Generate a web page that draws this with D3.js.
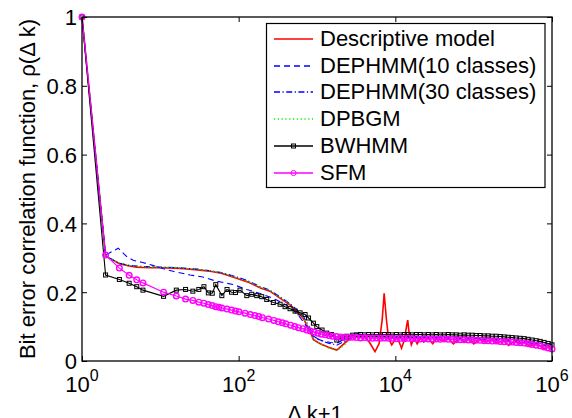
<!DOCTYPE html>
<html><head><meta charset="utf-8">
<script src="https://cdn.jsdelivr.net/npm/d3@7"></script>
<style>body{margin:0;background:#fff}svg{display:block}text{font-family:"Liberation Sans",Arial,Helvetica,sans-serif;fill:#000}</style>
</head><body><svg id="c" width="572" height="418"></svg>
<script>
// ---- data ----
const legendLabels = ["Descriptive model","DEPHMM(10 classes)","DEPHMM(30 classes)","DPBGM","BWHMM","SFM"];
const xTickVals = [1, 100, 10000, 1000000];
const xTickExps = ["0","2","4","6"];
const yTickVals = [0, 0.2, 0.4, 0.6, 0.8, 1];
const yTickLabels = ["0","0.2","0.4","0.6","0.8","1"];

const lagDesc = [1,2,3,4,5,6,8,10,15,20,30,45,60,90,130,190,250,330,450,550,670,820,900,1100,1400,1790,2200,2650,3300,4200,4800,5500,6200,6800,7200,7700,8200,9000,9800,10500,11200,12000,13000,14000,14400,15000,16000,17500,19000,21000,23000,26000,30000,34000,40000,47000,55000,65000,75000,90000,100000,120000,140000,170000,200000,240000,280000,330000,380000,450000,520000,600000,700000,800000,900000,1000000];
const rhoDesc = [1.0,0.305,0.283,0.276,0.273,0.272,0.271,0.271,0.270,0.268,0.265,0.260,0.255,0.242,0.230,0.212,0.203,0.184,0.163,0.145,0.124,0.085,0.062,0.050,0.040,0.032,0.050,0.066,0.070,0.068,0.050,0.027,0.050,0.120,0.197,0.120,0.065,0.047,0.060,0.068,0.055,0.037,0.060,0.105,0.119,0.080,0.047,0.068,0.050,0.066,0.055,0.067,0.050,0.066,0.058,0.066,0.050,0.065,0.057,0.064,0.050,0.063,0.055,0.062,0.052,0.060,0.045,0.058,0.050,0.055,0.042,0.050,0.045,0.035,0.042,0.033];

const lagDep10 = [1,2,2.5,2.9,3.4,3.8,4.5,5.8,8,11,15,24,35,50,86,127,188,250,306,411,500,600,700,820,950,1200,1500,1790,2200,2800,3500,4200,6000,10000,20000,50000,100000,200000,500000,1000000];
const rhoDep10 = [1.0,0.308,0.32,0.328,0.312,0.302,0.293,0.287,0.278,0.268,0.26,0.25,0.244,0.233,0.222,0.208,0.196,0.186,0.177,0.162,0.147,0.128,0.108,0.084,0.066,0.058,0.054,0.052,0.062,0.075,0.082,0.078,0.072,0.070,0.069,0.067,0.066,0.063,0.055,0.045];

const lagSmooth = [1,2,3,4,5,6,8,10,15,20,30,45,60,90,130,190,250,330,450,550,670,820,900,1100,1400,1790,2200,2650,3300,4200,6000,10000,20000,50000,100000,200000,500000,1000000];
const rhoDep30 = [1.0,0.305,0.284,0.278,0.276,0.275,0.274,0.273,0.272,0.270,0.267,0.262,0.257,0.246,0.234,0.216,0.206,0.188,0.167,0.150,0.130,0.094,0.072,0.060,0.052,0.046,0.056,0.068,0.074,0.072,0.070,0.069,0.068,0.066,0.064,0.060,0.052,0.042];
const rhoDpbgm = [1.0,0.305,0.285,0.278,0.275,0.274,0.273,0.273,0.272,0.270,0.267,0.262,0.257,0.244,0.232,0.214,0.205,0.186,0.165,0.147,0.126,0.088,0.065,0.050,0.038,0.030,0.045,0.062,0.068,0.067,0.066,0.066,0.065,0.063,0.062,0.058,0.050,0.040];

const lagBw = [1,2,3,4,5,6,11,16,21,26,31,36,41,46,51,61,71,81,91,104,127,147,170,197,228,277,338,391,453,525,608,705,780,900,994,1160,1334,1530,1790,2100,2420,2850,3200,3600,4050,4550,5100,5750,6450,7250,8150,9150,10300,11600,13000,14600,16400,18500,20800,23400,26300,29600,33300,37400,42100,47300,53200,59800,67300,75700,85100,95700,107600,121000,136100,153100,172200,193700,217800,245000,275500,309900,348500,392000,440900,495900,557700,627300,705500,793500,892500,1000000];
const rhoBw = [1.0,0.250,0.237,0.226,0.216,0.206,0.188,0.206,0.208,0.203,0.208,0.216,0.198,0.197,0.222,0.190,0.208,0.200,0.199,0.206,0.190,0.194,0.190,0.187,0.179,0.170,0.165,0.158,0.152,0.145,0.140,0.135,0.125,0.110,0.100,0.090,0.081,0.077,0.061,0.067,0.072,0.075,0.076,0.077,0.076,0.077,0.076,0.077,0.076,0.077,0.077,0.076,0.077,0.076,0.077,0.077,0.076,0.077,0.077,0.076,0.077,0.076,0.077,0.076,0.076,0.077,0.076,0.076,0.075,0.076,0.075,0.075,0.074,0.074,0.073,0.073,0.072,0.072,0.071,0.070,0.069,0.068,0.067,0.066,0.065,0.063,0.061,0.059,0.057,0.054,0.051,0.047];

const lagSfm = [1,2,3,4,5,6,11,16,21,26,31,36,41,46,51,56,61,71,81,91,101,121,141,161,181,201,241,281,321,361,401,461,521,581,661,741,821,921,1021,1141,1281,1421,1581,1781,2000,2250,2530,2850,3200,3600,4050,4550,5100,5750,6450,7250,8150,9150,10300,11600,13000,14600,16400,18500,20800,23400,26300,29600,33300,37400,42100,47300,53200,59800,67300,75700,85100,95700,107600,121000,136100,153100,172200,193700,217800,245000,275500,309900,348500,392000,440900,495900,557700,627300,705500,793500,892500,1000000];
const rhoSfm = [1.0,0.308,0.270,0.249,0.236,0.227,0.200,0.189,0.180,0.176,0.171,0.168,0.164,0.161,0.158,0.156,0.154,0.151,0.148,0.145,0.143,0.139,0.135,0.132,0.129,0.126,0.122,0.118,0.114,0.111,0.108,0.104,0.100,0.097,0.094,0.090,0.087,0.084,0.081,0.078,0.076,0.074,0.072,0.071,0.070,0.069,0.068,0.069,0.068,0.067,0.068,0.067,0.066,0.067,0.066,0.067,0.066,0.066,0.065,0.066,0.065,0.066,0.065,0.065,0.064,0.065,0.064,0.064,0.064,0.063,0.064,0.063,0.063,0.062,0.062,0.062,0.061,0.061,0.060,0.060,0.059,0.059,0.058,0.058,0.057,0.056,0.056,0.055,0.054,0.053,0.052,0.050,0.048,0.046,0.044,0.041,0.038,0.035];

// ---- chart ----
const svg = d3.select("#c");
const L = 82, R = 552, T = 17, B = 361;
const x = d3.scaleLog().domain([1, 1e6]).range([L, R]);
const y = d3.scaleLinear().domain([0, 1]).range([B, T]);

const series = [
  {lag: lagDesc,  rho: rhoDesc,  color: "#ff0000", dash: null,            width: 1.6, marker: null},
  {lag: lagDep10, rho: rhoDep10, color: "#0000ff", dash: "6,4",           width: 1.1, marker: null},
  {lag: lagSmooth,rho: rhoDep30, color: "#0000ff", dash: "6,2.5,1.2,2.5", width: 1.1, marker: null},
  {lag: lagSmooth,rho: rhoDpbgm, color: "#00ee00", dash: "1.2,2.6",       width: 1.3, marker: null},
  {lag: lagBw,    rho: rhoBw,    color: "#000000", dash: null,            width: 1.1, marker: "square"},
  {lag: lagSfm,   rho: rhoSfm,   color: "#ff00ff", dash: null,            width: 1.2, marker: "circle"}
];

const line = d3.line().x(d => x(d[0])).y(d => y(d[1]));
const plot = svg.append("g");
series.forEach(s => {
  const pts = s.lag.map((v, i) => [v, s.rho[i]]);
  plot.append("path").attr("d", line(pts)).attr("fill", "none")
    .attr("stroke", s.color).attr("stroke-width", s.width)
    .attr("stroke-dasharray", s.dash);
  if (s.marker === "square") {
    plot.selectAll(null).data(pts).enter().append("rect")
      .attr("x", d => x(d[0]) - 2).attr("y", d => y(d[1]) - 2)
      .attr("width", 4).attr("height", 4)
      .attr("fill", "none").attr("stroke", s.color).attr("stroke-width", 1);
  } else if (s.marker === "circle") {
    plot.selectAll(null).data(pts).enter().append("circle")
      .attr("cx", d => x(d[0])).attr("cy", d => y(d[1])).attr("r", 2.8)
      .attr("fill", "none").attr("stroke", s.color).attr("stroke-width", 1.4);
  }
});

// frame
svg.append("rect").attr("x", L).attr("y", T).attr("width", R - L).attr("height", B - T)
  .attr("fill", "none").attr("stroke", "#000").attr("stroke-width", 1.3);

function styleAxis(g) {
  g.select(".domain").remove();
  g.selectAll(".tick line").attr("stroke", "#000").attr("stroke-width", 1);
}
svg.append("g").attr("transform", `translate(0,${B})`)
  .call(d3.axisBottom(x).tickValues(xTickVals).tickSizeInner(-5).tickSizeOuter(0).tickFormat(""))
  .call(styleAxis);
svg.append("g").attr("transform", `translate(0,${T})`)
  .call(d3.axisTop(x).tickValues(xTickVals).tickSizeInner(-5).tickSizeOuter(0).tickFormat(""))
  .call(styleAxis);
const gy = svg.append("g").attr("transform", `translate(${L},0)`)
  .call(d3.axisLeft(y).tickValues(yTickVals).tickSizeInner(-5).tickSizeOuter(0).tickPadding(5)
    .tickFormat((d, i) => yTickLabels[i]))
  .call(styleAxis);
gy.selectAll(".tick text").attr("font-size", 22).attr("font-family", "Liberation Sans, Arial, sans-serif")
  .attr("fill", "#000").attr("dy", "0.36em");
svg.append("g").attr("transform", `translate(${R},0)`)
  .call(d3.axisRight(y).tickValues(yTickVals).tickSizeInner(-5).tickSizeOuter(0).tickFormat(""))
  .call(styleAxis);

// x tick labels with superscripts
xTickVals.forEach((v, i) => {
  const t = svg.append("text").attr("x", x(v)).attr("y", 392).attr("text-anchor", "middle")
    .attr("font-size", 22);
  t.append("tspan").text("10");
  t.append("tspan").attr("dy", -11).attr("font-size", 16).text(xTickExps[i]);
});

// axis titles
svg.append("text").attr("x", 315).attr("y", 421).attr("text-anchor", "middle")
  .attr("font-size", 22).text("\u0394 k+1");
svg.append("text").attr("transform", `translate(35,${(T + B) / 2}) rotate(-90)`)
  .attr("text-anchor", "middle").attr("font-size", 22)
  .text("Bit error correlation function, \u03c1(\u0394 k)");

// legend
const lg = svg.append("g");
lg.append("rect").attr("x", 266.5).attr("y", 23.5).attr("width", 278.5).attr("height", 164)
  .attr("fill", "#fff").attr("stroke", "#000").attr("stroke-width", 1.2);
series.forEach((s, i) => {
  const cy = Math.round(39 + i * 26.7);
  lg.append("line").attr("x1", 274).attr("x2", 313).attr("y1", cy).attr("y2", cy)
    .attr("stroke", s.color).attr("stroke-width", 1.5).attr("stroke-dasharray", s.dash);
  if (s.marker === "square") {
    lg.append("rect").attr("x", 291.5).attr("y", cy - 2).attr("width", 4).attr("height", 4)
      .attr("fill", "none").attr("stroke", s.color);
  } else if (s.marker === "circle") {
    lg.append("circle").attr("cx", 293.5).attr("cy", cy).attr("r", 2.6)
      .attr("fill", "none").attr("stroke", s.color);
  }
  lg.append("text").attr("x", 320).attr("y", cy + 7).attr("font-size", 22).text(legendLabels[i]);
});
</script>
</body></html>
